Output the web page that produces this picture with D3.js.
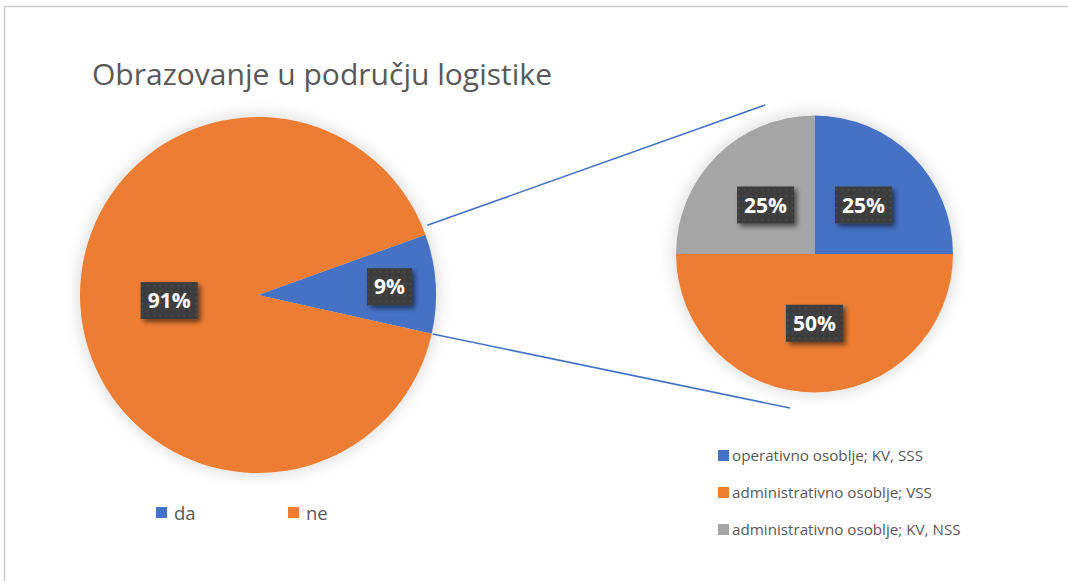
<!DOCTYPE html>
<html>
<head>
<meta charset="utf-8">
<script src="https://cdn.jsdelivr.net/npm/d3@7"></script>
<style>
  body { margin: 0; background: #fff; }
  svg { display: block; font-family: "Open Sans", "Noto Sans", sans-serif; }
</style>
</head>
<body>
<div id="chart"></div>
<script>
// data
var title = "Obrazovanje u području logistike";
var mainCategories = ["da", "ne"];
var mainValues = [9, 91];
var subCategories = ["operativno osoblje; KV, SSS", "administrativno osoblje; VSS", "administrativno osoblje; KV, NSS"];
var subValues = [25, 50, 25];

var width = 1068, height = 581;
var blue = "#4472C4", orange = "#ED7D31", gray = "#A5A5A5";

var svg = d3.select("#chart").append("svg")
    .attr("width", width)
    .attr("height", height);

var defs = svg.append("defs");
var shadow = defs.append("filter").attr("id", "pieShadow")
    .attr("x", "-20%").attr("y", "-20%").attr("width", "140%").attr("height", "140%");
shadow.append("feGaussianBlur").attr("in", "SourceAlpha").attr("stdDeviation", 9).attr("result", "b");
shadow.append("feComponentTransfer").attr("in", "b").attr("result", "s")
  .append("feFuncA").attr("type", "linear").attr("slope", 0.18);
var m1 = shadow.append("feMerge");
m1.append("feMergeNode").attr("in", "s");
m1.append("feMergeNode").attr("in", "SourceGraphic");

var boxShadow = defs.append("filter").attr("id", "boxShadow")
    .attr("x", "-30%").attr("y", "-30%").attr("width", "170%").attr("height", "170%");
boxShadow.append("feGaussianBlur").attr("in", "SourceAlpha").attr("stdDeviation", 2.5).attr("result", "b");
boxShadow.append("feOffset").attr("in", "b").attr("dx", 3).attr("dy", 3).attr("result", "o");
boxShadow.append("feComponentTransfer").attr("in", "o").attr("result", "s")
  .append("feFuncA").attr("type", "linear").attr("slope", 0.55);
var m2 = boxShadow.append("feMerge");
m2.append("feMergeNode").attr("in", "s");
m2.append("feMergeNode").attr("in", "SourceGraphic");

var dots = defs.append("pattern").attr("id", "dots")
    .attr("width", 6).attr("height", 6).attr("patternUnits", "userSpaceOnUse");
dots.append("rect").attr("width", 6).attr("height", 6).attr("fill", "#3d3d3d");
dots.append("circle").attr("cx", 3).attr("cy", 3).attr("r", 0.9).attr("fill", "#4f4f4f");

// frame
svg.append("rect")
    .attr("x", 4.5).attr("y", 6.5)
    .attr("width", 1100).attr("height", 600)
    .attr("fill", "#fff")
    .attr("stroke", "#cccccc")
    .attr("stroke-width", 1.5);

svg.append("text")
    .attr("x", 92).attr("y", 85)
    .attr("font-size", 29)
    .attr("textLength", 460)
    .attr("lengthAdjust", "spacingAndGlyphs")
    .attr("fill", "#595959")
    .text(title);

// main pie
var mainCx = 258, mainCy = 295, mainR = 178;
var mainStart = 70.2 * Math.PI / 180;
var mainPie = d3.pie().sort(null).value(d => d)
    .startAngle(mainStart).endAngle(mainStart + 2 * Math.PI);
var mainArcs = mainPie(mainValues);
var mainColor = d3.scaleOrdinal().domain(mainCategories).range([blue, orange]);
var arcMain = d3.arc().innerRadius(0).outerRadius(mainR);

var gMain = svg.append("g").attr("transform", `translate(${mainCx},${mainCy})`);
gMain.append("g").attr("filter", "url(#pieShadow)")
  .selectAll("path")
  .data(mainArcs)
  .join("path")
    .attr("d", arcMain)
    .attr("fill", (d, i) => mainColor(mainCategories[i]));

// second pie
var subCx = 814.5, subCy = 254, subR = 138.5;
var subPie = d3.pie().sort(null).value(d => d);
var subArcs = subPie(subValues);
var subColor = d3.scaleOrdinal().domain(subCategories).range([blue, orange, gray]);
var arcSub = d3.arc().innerRadius(0).outerRadius(subR);

var gSub = svg.append("g").attr("transform", `translate(${subCx},${subCy})`);
gSub.append("g").attr("filter", "url(#pieShadow)")
  .selectAll("path")
  .data(subArcs)
  .join("path")
    .attr("d", arcSub)
    .attr("fill", (d, i) => subColor(subCategories[i]));

// connector lines from the split slice
var split = mainArcs[0];
function edge(a, r) {
  return [mainCx + r * Math.sin(a), mainCy - r * Math.cos(a)];
}
var p1 = edge(split.startAngle - 0.045, mainR + 5), p2 = edge(split.endAngle, mainR + 1);
var connectors = [[p1, [765, 105]], [p2, [790, 408]]];
svg.append("g").selectAll("line")
  .data(connectors)
  .join("line")
    .attr("x1", d => d[0][0]).attr("y1", d => d[0][1])
    .attr("x2", d => d[1][0]).attr("y2", d => d[1][1])
    .attr("stroke", blue)
    .attr("stroke-width", 1.5);

// data labels
function label(g, x, y, txt) {
  var lg = g.append("g").attr("transform", `translate(${x},${y})`);
  var bg = lg.append("rect").attr("fill", "url(#dots)").attr("filter", "url(#boxShadow)");
  var t = lg.append("text")
      .attr("text-anchor", "middle")
      .attr("dy", "0.36em")
      .attr("font-size", 21)
      .attr("font-weight", "bold")
      .attr("fill", "#fff")
      .text(txt);
  var w = t.node().getBBox().width + 14, h = 37;
  bg.attr("x", -w / 2).attr("y", -h / 2).attr("width", w).attr("height", h);
}
var pct = d3.format(".0%");
var mainTotal = d3.sum(mainValues), subTotal = d3.sum(subValues);
mainArcs.forEach(function(d, i) {
  var r = i === 0 ? mainR * 0.74 : mainR * 0.5;
  var c = d3.arc().innerRadius(r).outerRadius(r).centroid(d);
  label(gMain, c[0], c[1], pct(d.value / mainTotal));
});
subArcs.forEach(function(d) {
  var r = subR * 0.5;
  var c = d3.arc().innerRadius(r).outerRadius(r).centroid(d);
  label(gSub, c[0], c[1], pct(d.value / subTotal));
});

// legends
var legMain = svg.append("g").selectAll("g")
  .data(mainCategories)
  .join("g")
    .attr("transform", (d, i) => `translate(156,${507})translate(${i * 132},0)`);
legMain.append("rect").attr("width", 11).attr("height", 11).attr("fill", d => mainColor(d));
legMain.append("text").attr("x", 18).attr("y", 6).attr("dy", "0.36em")
    .attr("font-size", 18.5).attr("fill", "#595959").text(d => d);

var legSub = svg.append("g").selectAll("g")
  .data(subCategories)
  .join("g")
    .attr("transform", (d, i) => `translate(718,${456 + i * 37})`);
legSub.append("rect").attr("y", -6).attr("width", 11).attr("height", 11).attr("fill", d => subColor(d));
legSub.append("text").attr("x", 14).attr("y", 0).attr("dy", "0.36em")
    .attr("font-size", 15.2).attr("fill", "#595959").text(d => d);
</script>
</body>
</html>
